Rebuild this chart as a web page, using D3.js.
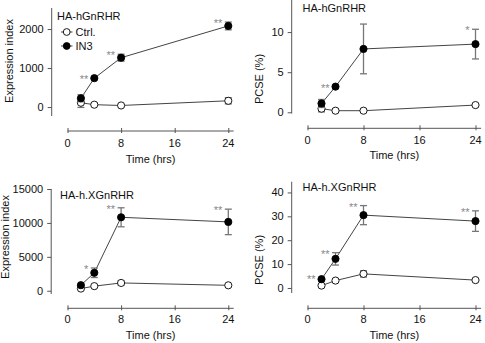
<!DOCTYPE html>
<html><head><meta charset="utf-8">
<script src="https://cdn.jsdelivr.net/npm/d3@7"></script>
<style>body{margin:0;background:#fff}svg{display:block}text{font-family:"Liberation Sans",Arial,Helvetica,sans-serif}</style>
</head><body><svg id="c" width="485" height="343"></svg>
<script>
// ---- data ----
const times = [2, 4, 8, 24];
const xTicks = [0, 8, 16, 24];

const p1Title = "HA-hGnRHR";
const p1Ctrl = [110, 60, 40, 160];
const p1CtrlErr = [120, 0, 0, 80];
const p1IN3 = [225, 740, 1265, 2080];
const p1IN3Err = [90, 0, 90, 100];
const p1YTicks = [0, 1000, 2000];
const p1Stars = [[4, "**"], [8, "**"], [24, "**"]];

const p2Title = "HA-hGnRHR";
const p2Ctrl = [0.45, 0.2, 0.2, 0.9];
const p2CtrlErr = [0.4, 0, 0, 0];
const p2IN3 = [1.1, 3.2, 7.9, 8.5];
const p2IN3Err = [0.5, 0, 3.1, 1.85];
const p2YTicks = [0, 5, 10];
const p2Stars = [[4, "**"], [24, "*"]];

const p3Title = "HA-h.XGnRHR";
const p3Ctrl = [320, 680, 1150, 800];
const p3CtrlErr = [0, 0, 300, 0];
const p3IN3 = [820, 2650, 10830, 10150];
const p3IN3Err = [0, 700, 1400, 1880];
const p3YTicks = [0, 5000, 10000, 15000];
const p3Stars = [[4, "*"], [8, "**"], [24, "**"]];

const p4Title = "HA-h.XGnRHR";
const p4Ctrl = [1.0, 3.1, 5.9, 3.3];
const p4CtrlErr = [0, 0, 1.3, 0];
const p4IN3 = [3.7, 12.2, 30.5, 28.0];
const p4IN3Err = [0.5, 2.6, 4.0, 4.3];
const p4YTicks = [0, 10, 20, 30, 40];
const p4Stars = [[2, "**"], [4, "**"], [8, "**"], [24, "**"]];

const seriesNames = ["Ctrl.", "IN3"];
const xLabel = "Time (hrs)";
const yLabels = ["Expression index", "PCSE (%)", "Expression index", "PCSE (%)"];

// ---- layout (positions only) ----
const panels = [
  {title:p1Title, ctrl:p1Ctrl, ctrlErr:p1CtrlErr, in3:p1IN3, in3Err:p1IN3Err, yTicks:p1YTicks, stars:p1Stars, yLabel:yLabels[0],
   xr:[67.5, 228.3], xAxisY:131, yAxisX:51.7, yDom:[-230, 2540], yr:[116, 8],
   tickLabY:147, xTitleY:163, yTitleX:13, yTitleY:61, titleX:57, titleY:20, legend:true},
  {title:p2Title, ctrl:p2Ctrl, ctrlErr:p2CtrlErr, in3:p2IN3, in3Err:p2IN3Err, yTicks:p2YTicks, stars:p2Stars, yLabel:yLabels[1],
   xr:[307.5, 475.5], xAxisY:128.3, yAxisX:291.7, yDom:[-0.15, 14], yr:[113.5, 0],
   tickLabY:144, xTitleY:159, yTitleX:263, yTitleY:79, titleX:302.5, titleY:12, legend:false},
  {title:p3Title, ctrl:p3Ctrl, ctrlErr:p3CtrlErr, in3:p3IN3, in3Err:p3IN3Err, yTicks:p3YTicks, stars:p3Stars, yLabel:yLabels[2],
   xr:[67.5, 228.3], xAxisY:308.3, yAxisX:51.2, yDom:[-480, 15000], yr:[294, 189],
   tickLabY:323, xTitleY:339, yTitleX:9, yTitleY:237, titleX:60, titleY:199, legend:false},
  {title:p4Title, ctrl:p4Ctrl, ctrlErr:p4CtrlErr, in3:p4IN3, in3Err:p4IN3Err, yTicks:p4YTicks, stars:p4Stars, yLabel:yLabels[3],
   xr:[307.5, 475.5], xAxisY:308.3, yAxisX:291.7, yDom:[-2.1, 44.5], yr:[293, 181.7],
   tickLabY:323, xTitleY:339, yTitleX:263, yTitleY:260, titleX:302.5, titleY:191, legend:false}
];

const svg = d3.select("#c");
const axisCol = "#555", lineCol = "#444", errCol = "#777", starCol = "#888";
const fs = 11;

panels.forEach(p => {
  const x = d3.scaleLinear().domain([0, 24]).range(p.xr);
  const xEnd = x(24.8);
  const y = d3.scaleLinear().domain(p.yDom).range(p.yr);
  const g = svg.append("g");

  // x axis
  const xa = g.append("g").attr("transform", `translate(0,${p.xAxisY})`)
    .call(d3.axisBottom(x).tickValues(xTicks).tickSize(4).tickSizeOuter(0));
  xa.select(".domain").attr("d", `M${x(0)},0H${xEnd}`);
  xa.selectAll(".tick line").attr("y1", -3).attr("y2", 2);
  xa.selectAll("path,line").attr("stroke", axisCol).attr("stroke-width", 1);
  xa.selectAll("text").remove();
  xTicks.forEach(t => g.append("text").attr("x", x(t)).attr("y", p.tickLabY)
    .attr("text-anchor", "middle").attr("font-size", fs).attr("fill", "#111").text(t));
  g.append("text").attr("x", (x(0) + xEnd) / 2).attr("y", p.xTitleY).attr("text-anchor", "middle")
    .attr("font-size", fs).attr("fill", "#111").text(xLabel);

  // y axis
  const ya = g.append("g").attr("transform", `translate(${p.yAxisX},0)`)
    .call(d3.axisLeft(y).tickValues(p.yTicks).tickFormat(d3.format("d")).tickSize(4).tickSizeOuter(0));
  ya.select(".domain").attr("d", `M0,${p.yr[0]}V${p.yr[1]}`);
  ya.selectAll("path,line").attr("stroke", axisCol).attr("stroke-width", 1);
  ya.selectAll("text").attr("font-size", fs).attr("fill", "#111")
    .attr("font-family", '"Liberation Sans",Arial,sans-serif').attr("x", -8);
  g.append("text").attr("transform", `translate(${p.yTitleX},${p.yTitleY}) rotate(-90)`)
    .attr("text-anchor", "middle").attr("font-size", fs).attr("fill", "#111").text(p.yLabel);

  // title
  g.append("text").attr("x", p.titleX).attr("y", p.titleY).attr("font-size", fs).attr("fill", "#111").text(p.title);

  const line = d3.line().x((d, i) => x(times[i])).y(d => y(d));
  const drawSeries = (vals, errs, filled) => {
    g.append("path").datum(vals).attr("d", line).attr("fill", "none").attr("stroke", lineCol).attr("stroke-width", 1);
    vals.forEach((v, i) => {
      const e = errs[i];
      if (e > 0) {
        const cx = x(times[i]);
        g.append("line").attr("x1", cx).attr("x2", cx).attr("y1", y(v - e)).attr("y2", y(v + e)).attr("stroke", errCol).attr("stroke-width", 1.3);
        [v - e, v + e].forEach(b => g.append("line").attr("x1", cx - 3.5).attr("x2", cx + 3.5).attr("y1", y(b)).attr("y2", y(b)).attr("stroke", errCol).attr("stroke-width", 1.3));
      }
    });
    g.selectAll(null).data(vals).enter().append("circle")
      .attr("cx", (d, i) => x(times[i])).attr("cy", d => y(d)).attr("r", 3.6)
      .attr("fill", filled ? "#000" : "#fff").attr("stroke", "#000").attr("stroke-width", 0.9);
  };
  drawSeries(p.ctrl, p.ctrlErr, false);
  drawSeries(p.in3, p.in3Err, true);

  // significance stars
  p.stars.forEach(([t, s]) => {
    const i = times.indexOf(t);
    const top = y(p.in3[i] + p.in3Err[i]);
    g.append("text").attr("x", x(t) - 6).attr("y", top + 5).attr("text-anchor", "end")
      .attr("font-size", fs).attr("fill", starCol).text(s);
  });

  // legend
  if (p.legend) {
    [[false, 32], [true, 46]].forEach(([filled, ly], k) => {
      g.append("line").attr("x1", 61).attr("x2", 72.5).attr("y1", ly).attr("y2", ly).attr("stroke", lineCol);
      g.append("circle").attr("cx", 66.7).attr("cy", ly).attr("r", 3.4)
        .attr("fill", filled ? "#000" : "#fff").attr("stroke", "#000").attr("stroke-width", 0.9);
      g.append("text").attr("x", 75.5).attr("y", ly + 4).attr("font-size", fs).attr("fill", "#111").text(seriesNames[k]);
    });
  }
});
</script></body></html>
